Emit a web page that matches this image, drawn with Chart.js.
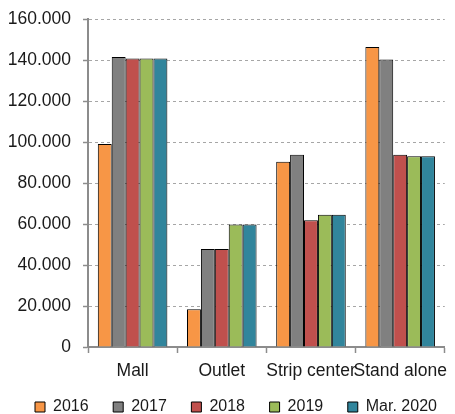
<!DOCTYPE html>
<html><head><meta charset="utf-8">
<script src="https://cdn.jsdelivr.net/npm/chart.js@4"></script>
<style>html,body{margin:0;padding:0;background:#fff}#wrap{width:455px;height:414px}</style>
</head><body><div id="wrap"><canvas id="c" width="455" height="414"></canvas></div>
<script>
const categories = ['Mall', 'Outlet', 'Strip center', 'Stand alone'];
const seriesNames = ['2016', '2017', '2018', '2019', 'Mar. 2020'];
const values2016 = [99000, 18400, 90400, 146300];
const values2017 = [141500, 47800, 93800, 140300];
const values2018 = [140700, 47800, 61800, 93800];
const values2019 = [140700, 59800, 64500, 93000];
const valuesMar2020 = [140700, 59800, 64500, 93000];
const yTicks = [0, 20000, 40000, 60000, 80000, 100000, 120000, 140000, 160000];
const colors = ['#F79646', '#808080', '#C0504D', '#9BBB59', '#31859C'];

const allValues = [values2016, values2017, values2018, values2019, valuesMar2020];
const fmt = v => String(v).replace(/\B(?=(\d{3})+(?!\d))/g, '.');
const FONT = '"Liberation Sans", Arial, sans-serif';

const LEG_PAD = 24.6;
const legendPatch = {
  id: 'legendPatch',
  beforeUpdate(chart) {
    const lg = chart.legend;
    if (lg && !lg._patched) {
      const orig = lg.fit;
      lg.fit = function() {
        const mw = this.maxWidth;
        this.maxWidth = 2000;
        orig.call(this);
        this.maxWidth = mw;
        this.width = mw;
        this.height = 27;
      };
      lg._patched = true;
    }
  },
  afterLayout(chart) {
    const lg = chart.legend;
    if (lg) {
      lg.left = 35 - LEG_PAD;
      lg.right = 2000;
      lg.top = 399 - LEG_PAD;
    }
  }
};

new Chart(document.getElementById('c'), {
  type: 'bar',
  data: {
    labels: categories,
    datasets: seriesNames.map((n, i) => ({
      label: n,
      data: allValues[i],
      backgroundColor: colors[i],
      borderColor: '#000',
      borderWidth: 1,
      categoryPercentage: 0.78,
      barPercentage: 1
    }))
  },
  options: {
    responsive: false,
    animation: false,
    layout: { padding: { left: 0, top: 19, right: 1, bottom: 0 } },
    font: { family: FONT },
    plugins: {
      tooltip: { enabled: false },
      legend: {
        position: 'bottom',
        align: 'start',
        labels: {
          boxWidth: 10, boxHeight: 10, padding: LEG_PAD,
          color: '#1a1a1a',
          font: { size: 16, family: FONT }
        }
      }
    },
    scales: {
      x: {
        grid: { display: true, drawOnChartArea: false, drawTicks: true, tickLength: 6, tickColor: '#8c8c8c', tickWidth: 1.5, offset: true },
        border: { color: '#8c8c8c', width: 2 },
        ticks: { color: '#1a1a1a', padding: 8, maxRotation: 0, autoSkip: false, font: { size: 17.5, family: FONT } },
        afterFit(s) { s.height = 40; }
      },
      y: {
        min: 0, max: 160000,
        afterBuildTicks(s) { s.ticks = yTicks.map(v => ({ value: v })); },
        grid: { color: '#a6a6a6', lineWidth: 1, tickLength: 5, tickColor: '#8c8c8c', tickWidth: 1.5, tickBorderDash: [] },
        border: { color: '#8c8c8c', width: 2, dash: [3, 3] },
        ticks: { color: '#1a1a1a', padding: 12, callback: v => fmt(v), font: { size: 17.5, family: FONT } },
        afterFit(s) { s.width = 88; s.paddingTop = 10; s.paddingBottom = 10; }
      }
    }
  },
  plugins: [legendPatch]
});
</script></body></html>
